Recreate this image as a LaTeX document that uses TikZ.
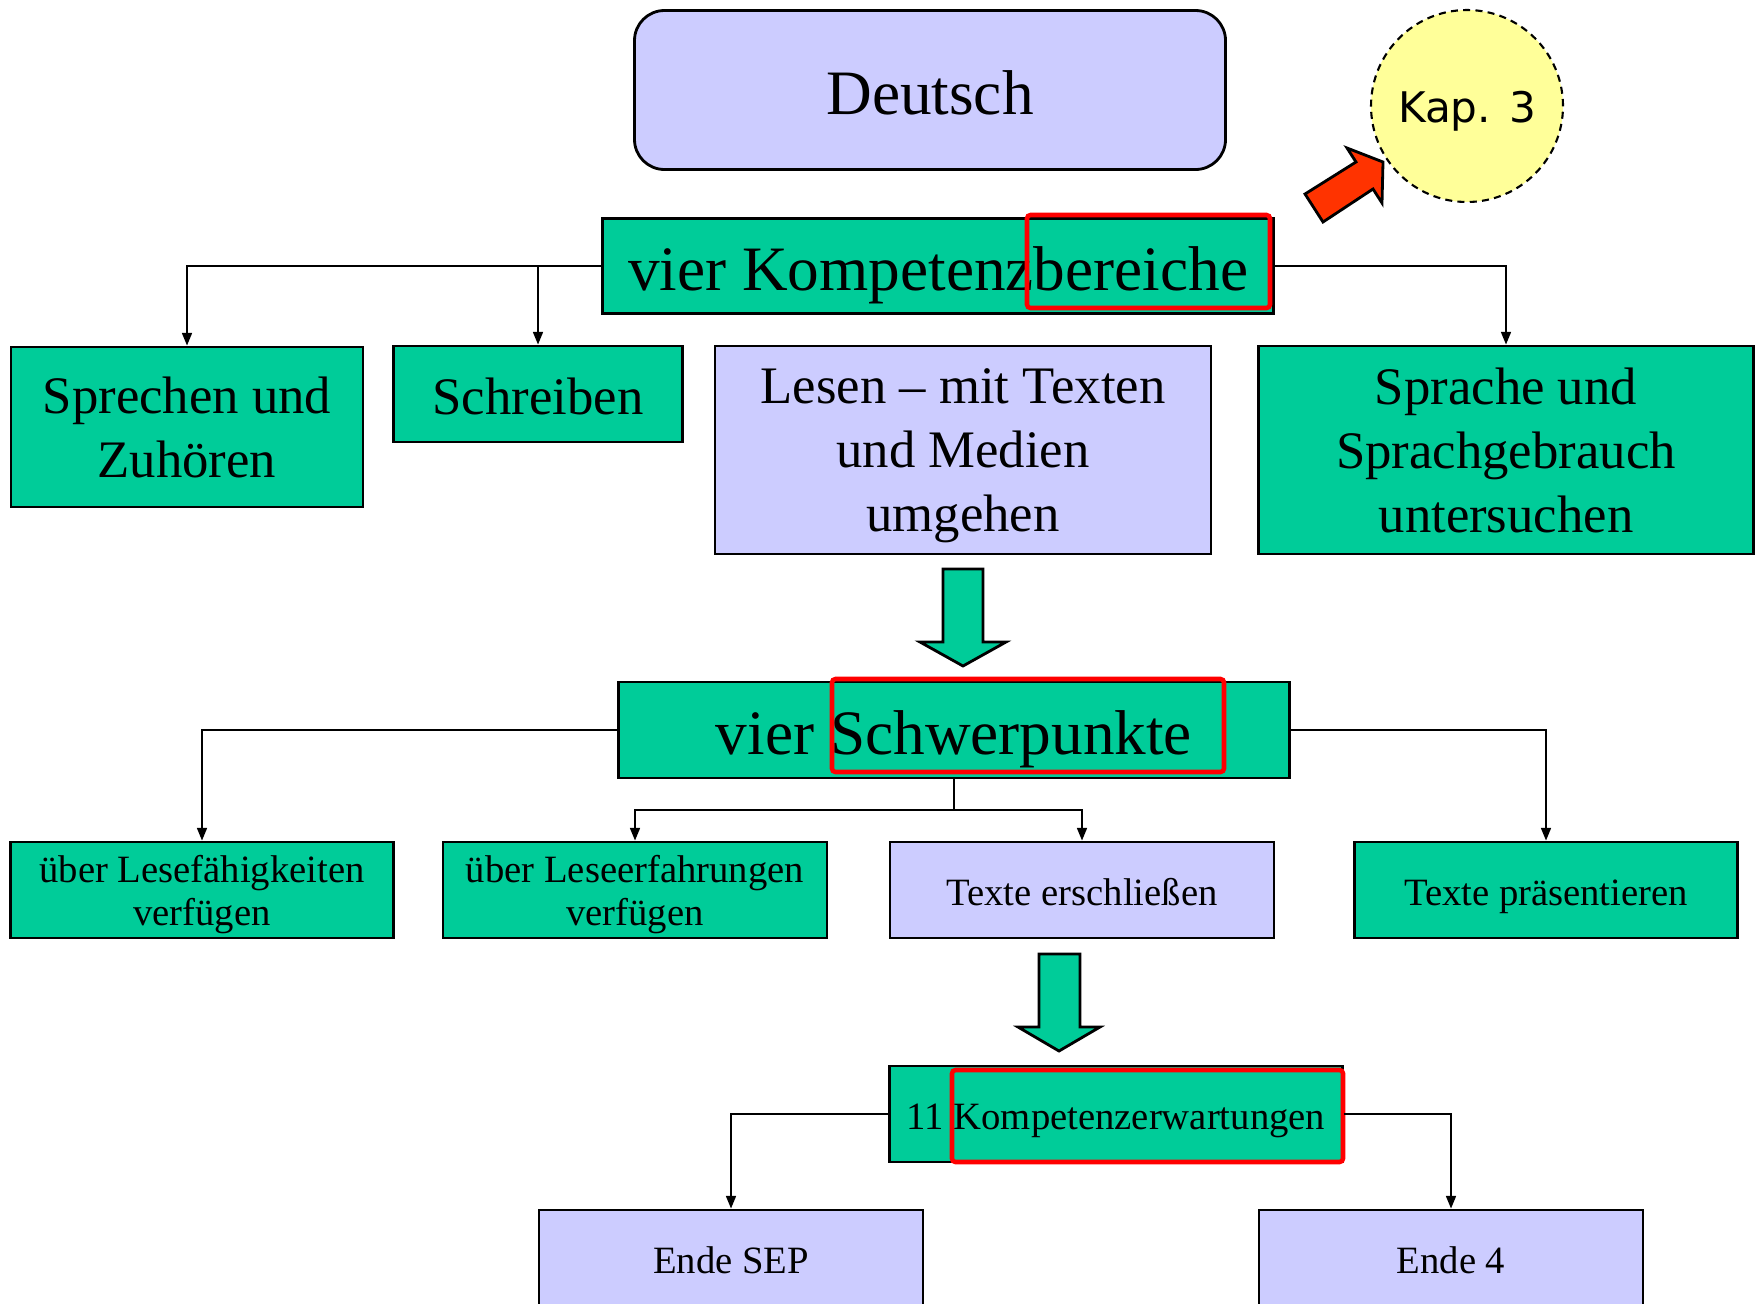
\documentclass[tikz,border=0pt]{standalone}
\usepackage{fontspec}
\setmainfont{Liberation Serif}
\newfontfamily\kapfont{DejaVu Sans}
\usetikzlibrary{
    arrows.meta,
    positioning,
    calc
}
\definecolor{greencol}{HTML}{00CC99}
\definecolor{lilaccol}{HTML}{CCCCFF}
\definecolor{kapcol}{HTML}{FFFF99}
\definecolor{markcol}{HTML}{FF0000}
\definecolor{pfeilcol}{HTML}{FF3300}

\begin{document}
\begin{tikzpicture}[
    x=0.1mm, y=-0.1mm,
    % ── Node Styles ──
    box/.style={
        draw, line width=0.8pt,
        minimum height=9.6mm,
        align=center, inner sep=2pt
    },
    gbox/.style={box, fill=greencol},
    lbox/.style={box, fill=lilaccol},
    % ── Font Styles ──
    big/.style={font=\fontsize{18}{21}\selectfont, text height=18pt, text depth=4pt},
    mid/.style={font=\fontsize{15}{18.2}\selectfont},
    midone/.style={mid, text height=15pt, text depth=3.3pt},
    small/.style={font=\fontsize{11}{12.2}\selectfont},
    smallone/.style={small, text height=11pt, text depth=2.4pt},
    multi/.style={text depth=0pt},
    % ── Arrow Styles ──
    arr/.style={-{Triangle[length=3.6pt,width=2.8pt]}, line width=0.55pt},
    fatarr/.style={draw, line width=0.8pt, fill=greencol, line join=miter},
    hilite/.style={draw=markcol, line width=1.3pt, rounded corners=1pt},
]
\useasboundingbox (0,0) rectangle (1762,1303);
\clip (0,0) rectangle (1762,1303);

% ────────────────────────────────
%  TOP: Fach + Kapitel
% ────────────────────────────────
\node[lbox, rounded corners=3mm, big, minimum width=59.1mm, minimum height=15.9mm]
    (deutsch) at (930,90) {Deutsch};

\node[circle, draw, fill=kapcol, line width=0.6pt, dash pattern=on 2pt off 1.5pt,
      minimum size=19.2mm, inner sep=0pt, font=\kapfont\fontsize{12}{14}\selectfont,
      text height=12pt, text depth=2.6pt]
    (kap) at (1467,106) {Kap. 3};

% red pointer to Kap. 3
\draw[line width=0.8pt, fill=pfeilcol, line join=miter]
    (1305,194) -- (1356,162) -- (1347,148) -- (1383,162)
    -- (1382,203) -- (1373,189) -- (1323,222) -- cycle;

% ────────────────────────────────
%  KOMPETENZBEREICHE
% ────────────────────────────────
\node[gbox, big, minimum width=67.1mm, minimum height=9.5mm]
    (komp) at (938,266) {vier Kompetenzbereiche};
\draw[hilite] (1027,215) rectangle (1270,308);

\node[gbox, mid, multi, minimum width=35.2mm, minimum height=16mm]
    (sprechen) at (187,427) {Sprechen und\\Zuhören};
\node[gbox, midone, minimum width=28.9mm]
    (schreiben) at (538,394) {Schreiben};
\node[lbox, mid, multi, minimum width=49.6mm, minimum height=20.8mm]
    (lesen) at (963,450) {Lesen – mit Texten\\und Medien\\umgehen};
\node[gbox, mid, multi, minimum width=49.5mm, minimum height=20.8mm]
    (sprache) at (1506,450) {Sprache und\\Sprachgebrauch\\untersuchen};

\draw[arr] (komp.west) -| (sprechen.north);
\draw[arr] (komp.west) -| (schreiben.north);
\draw[arr] (komp.east) -| (sprache.north);

% Lesen -> Schwerpunkte
\draw[fatarr] (943,569) -- (983,569) -- (983,642) -- (1006,642)
    -- (963,666) -- (920,642) -- (943,642) -- cycle;

% ────────────────────────────────
%  SCHWERPUNKTE
% ────────────────────────────────
\node[gbox, big, minimum width=67.1mm]
    (schwer) at (954,730) {vier Schwerpunkte};
\draw[hilite] (832,679) rectangle (1224,772);

\node[gbox, small, multi, minimum width=38.3mm]
    (faehig) at (202,890) {über Lesefähigkeiten\\verfügen};
\node[gbox, small, multi, minimum width=38.4mm]
    (erfahr) at (635,890) {über Leseerfahrungen\\verfügen};
\node[lbox, smallone, minimum width=38.4mm]
    (erschl) at (1082,890) {Texte erschließen};
\node[gbox, smallone, minimum width=38.3mm]
    (praes) at (1546,890) {Texte präsentieren};

\coordinate (split) at (954,810);
\draw[arr] (schwer.west) -| (faehig.north);
\draw[arr] (schwer.east) -| (praes.north);
\draw (schwer.south) -- (split);
\draw[arr] (split) -| (erfahr.north);
\draw[arr] (split) -| (erschl.north);

% Texte erschließen -> Kompetenzerwartungen
\draw[fatarr] (1039,954) -- (1080,954) -- (1080,1027) -- (1100,1027)
    -- (1059,1051) -- (1018,1027) -- (1039,1027) -- cycle;

% ────────────────────────────────
%  KOMPETENZERWARTUNGEN
% ────────────────────────────────
\node[gbox, smallone, minimum width=45.3mm]
    (kerw) at (1116,1114) {11 Kompetenzerwartungen};
\draw[hilite] (952,1070) rectangle (1343,1162);

\node[lbox, smallone, minimum width=38.4mm]
    (endesep) at (731,1258) {Ende SEP};
\node[lbox, smallone, minimum width=38.4mm]
    (endevier) at (1451,1258) {Ende 4};

\draw[arr] (kerw.west) -| (endesep.north);
\draw[arr] (kerw.east) -| (endevier.north);

\end{tikzpicture}
\end{document}
